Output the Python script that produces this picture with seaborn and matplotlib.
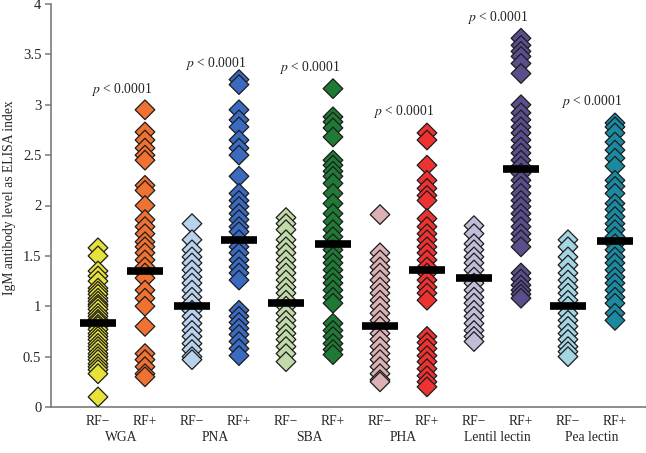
import numpy as np
import pandas as pd
import matplotlib
matplotlib.use("Agg")
import matplotlib.pyplot as plt
import seaborn as sns

# ---- data ----
lectins = ["WGA", "PNA", "SBA", "PHA", "Lentil lectin", "Pea lectin"]
status = ["RF\u2212", "RF+"]

wga_neg = [1.58, 1.50, 1.35, 1.30, 1.25, 1.18, 1.15, 1.12, 1.08, 1.05, 1.02, 1.00, 0.97, 0.93,
           0.90, 0.87, 0.85, 0.82, 0.80, 0.77, 0.73, 0.70, 0.67, 0.63, 0.60, 0.57, 0.53, 0.50,
           0.47, 0.43, 0.40, 0.37, 0.33, 0.10]
wga_pos = [2.95, 2.73, 2.65, 2.57, 2.50, 2.45, 2.20, 2.15, 2.00, 1.86, 1.79, 1.72, 1.64, 1.59,
           1.53, 1.46, 1.39, 1.33, 1.28, 1.16, 1.08, 1.00, 0.80, 0.53, 0.47, 0.40, 0.33, 0.30]
pna_neg = [1.82, 1.66, 1.56, 1.49, 1.43, 1.36, 1.29, 1.23, 1.16, 1.09, 1.03, 0.96, 0.90, 0.83,
           0.76, 0.70, 0.63, 0.57, 0.50, 0.47]
pna_pos = [3.25, 3.20, 2.95, 2.85, 2.78, 2.65, 2.57, 2.50, 2.29, 2.12, 2.05, 1.99, 1.92, 1.86,
           1.79, 1.74, 1.66, 1.59, 1.53, 1.46, 1.39, 1.33, 1.26, 0.96, 0.90, 0.84, 0.78, 0.72,
           0.65, 0.58, 0.51]
sba_neg = [1.88, 1.82, 1.76, 1.66, 1.59, 1.53, 1.46, 1.39, 1.33, 1.26, 1.19, 1.13, 1.06, 1.00,
           0.93, 0.86, 0.80, 0.73, 0.67, 0.60, 0.53, 0.45]
sba_pos = [3.16, 2.88, 2.83, 2.77, 2.68, 2.45, 2.40, 2.34, 2.29, 2.22, 2.12, 2.02, 1.92, 1.84,
           1.76, 1.69, 1.62, 1.56, 1.49, 1.43, 1.36, 1.29, 1.23, 1.16, 1.09, 1.03, 0.83, 0.76,
           0.70, 0.63, 0.57, 0.52]
pha_neg = [1.91, 1.53, 1.46, 1.39, 1.33, 1.26, 1.19, 1.13, 1.06, 1.00, 0.93, 0.86, 0.80, 0.73,
           0.67, 0.60, 0.53, 0.47, 0.40, 0.33, 0.27, 0.25]
pha_pos = [2.72, 2.65, 2.40, 2.25, 2.17, 2.10, 2.05, 1.87, 1.79, 1.72, 1.66, 1.59, 1.53, 1.46,
           1.39, 1.33, 1.26, 1.19, 1.13, 1.06, 0.70, 0.64, 0.58, 0.51, 0.45, 0.38, 0.31, 0.25,
           0.20]
len_neg = [1.80, 1.72, 1.62, 1.56, 1.49, 1.43, 1.36, 1.29, 1.23, 1.16, 1.09, 1.03, 0.96, 0.90,
           0.83, 0.76, 0.70, 0.65]
len_pos = [3.66, 3.59, 3.53, 3.48, 3.41, 3.31, 3.00, 2.92, 2.85, 2.78, 2.72, 2.65, 2.58, 2.52,
           2.45, 2.39, 2.32, 2.25, 2.19, 2.12, 2.05, 1.99, 1.92, 1.86, 1.79, 1.72, 1.66, 1.59,
           1.33, 1.27, 1.21, 1.16, 1.12, 1.08]
pea_neg = [1.66, 1.59, 1.49, 1.41, 1.33, 1.26, 1.19, 1.13, 1.06, 1.00, 0.93, 0.86, 0.80, 0.73,
           0.67, 0.60, 0.55, 0.50]
pea_pos = [2.82, 2.78, 2.72, 2.63, 2.55, 2.47, 2.39, 2.25, 2.19, 2.12, 2.02, 1.96, 1.89, 1.82,
           1.76, 1.69, 1.62, 1.56, 1.49, 1.43, 1.36, 1.29, 1.23, 1.16, 1.09, 1.03, 0.93, 0.86]

medians = [0.83, 1.35, 1.00, 1.66, 1.03, 1.62, 0.80, 1.36, 1.28, 2.36, 1.00, 1.65]
p_text = ["p < 0.0001"] * 6
p_y = [3.15, 3.41, 3.37, 2.93, 3.87, 3.03]

colors = ["#e6e23a", "#f07232", "#b9d3ee", "#3a6bc1", "#c2d9a9", "#1f7a36",
          "#dcb1b3", "#ee3232", "#c1bdd9", "#5b4e8b", "#a3d5e2", "#1b8aa1"]

groups = [wga_neg, wga_pos, pna_neg, pna_pos, sba_neg, sba_pos,
          pha_neg, pha_pos, len_neg, len_pos, pea_neg, pea_pos]

cats = [f"{l}|{s}" for l in lectins for s in status]
df = pd.DataFrame({
    "cat": np.concatenate([[c] * len(g) for c, g in zip(cats, groups)]),
    "val": np.concatenate(groups),
})

# ---- plotting ----
sns.set_style("ticks")
plt.rcParams["font.family"] = ["Liberation Serif", "DejaVu Serif"]
plt.rcParams["mathtext.fontset"] = "stix"

fig = plt.figure(figsize=(6.46, 4.53), dpi=100)
ax = fig.add_axes([51 / 646, 1 - 407 / 453, 1 - 51 / 646, 403 / 453])

sns.stripplot(data=df, x="cat", y="val", hue="cat", order=cats, hue_order=cats,
              palette=colors, legend=False, jitter=False, marker="D", size=10,
              edgecolor="#1c1c1c", linewidth=0.9, ax=ax, zorder=3)

xpos = np.arange(len(cats))
ax.hlines(medians, xpos - 0.39, xpos + 0.39, color="black", linewidth=5.5, zorder=6)

ax.set_xlim(-1.0, 11.66)
ax.set_ylim(0, 4)
ax.set_yticks(np.arange(0, 4.01, 0.5))
ax.set_yticklabels([f"{v:g}" for v in np.arange(0, 4.01, 0.5)], fontsize=10.5)
ax.set_xticks(xpos)
ax.set_xticklabels([status[i % 2] for i in range(len(cats))], fontsize=9.8)
ax.tick_params(axis="x", length=0, pad=6)
ax.tick_params(axis="y", length=4, width=1.1, color="#7a7a7a", pad=3)
ax.set_xlabel("")
ax.set_ylabel("IgM antibody level as ELISA index", fontsize=9.8)
ax.yaxis.set_label_coords(-0.058, 0.52)

for side in ["top", "right"]:
    ax.spines[side].set_visible(False)
for side in ["left", "bottom"]:
    ax.spines[side].set_color("#7a7a7a")
    ax.spines[side].set_linewidth(1.2)

trans = ax.get_xaxis_transform()
for k, name in enumerate(lectins):
    ax.text(2 * k + 0.5, -0.075, name, transform=trans, ha="center", va="center",
            fontsize=9.8)
    ax.text(2 * k + 0.5, p_y[k], "$p$ < 0.0001", ha="center", va="center", fontsize=9.8)

fig.savefig("out.png", dpi=100)
